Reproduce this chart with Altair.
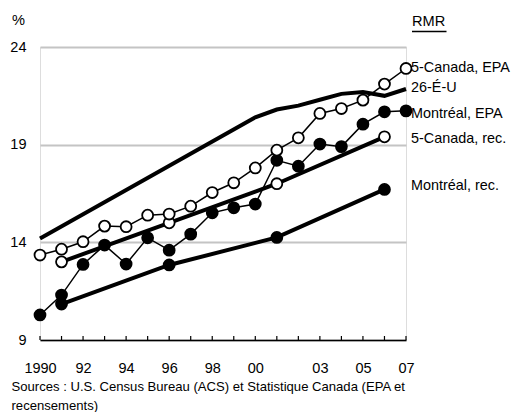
import altair as alt
import pandas as pd

FONT = "Liberation Sans, Arial, sans-serif"

years_epa = list(range(1990, 2008))
can_epa = [13.35, 13.65, 14.03, 14.83, 14.8, 15.39, 15.45, 15.85, 16.55, 17.05,
           17.81, 18.72, 19.35, 20.6, 20.85, 21.28, 22.1, 22.9]
mtl_epa = [10.28, 11.3, 12.87, 13.86, 12.89, 14.23, 13.6, 14.42, 15.51, 15.77,
           15.96, 18.2, 17.9, 19.03, 18.9, 20.05, 20.68, 20.73]
years_us = [1990, 2000, 2001, 2002, 2003, 2004, 2005, 2006, 2007]
us = [14.2, 20.4, 20.8, 21.0, 21.3, 21.6, 21.7, 21.5, 21.85]
years_census = [1991, 1996, 2001, 2006]
can_rec = [13.0, 15.0, 17.0, 19.4]
mtl_rec = [10.84, 12.84, 14.25, 16.71]

x_tick_values = [1990, 1992, 1994, 1996, 1998, 2000, 2003, 2005, 2007]
x_tick_labels = ["1990", "92", "94", "96", "98", "00", "03", "05", "07"]
y_tick_values = [9, 14, 19, 24]

series_labels = ["5-Canada, EPA", "26-É-U", "Montréal, EPA", "5-Canada, rec.", "Montréal, rec."]

df_us = pd.DataFrame({"year": years_us, "v": us})
df_can_epa = pd.DataFrame({"year": years_epa, "v": can_epa})
df_mtl_epa = pd.DataFrame({"year": years_epa, "v": mtl_epa})
df_can_rec = pd.DataFrame({"year": years_census, "v": can_rec})
df_mtl_rec = pd.DataFrame({"year": years_census, "v": mtl_rec})
df_ticks = pd.DataFrame({"year": years_epa})

W, H = 366, 293

label_map = "{" + ", ".join(f"'{v}': '{l}'" for v, l in zip(x_tick_values, x_tick_labels)) + "}"

xs = alt.Scale(domain=[1990, 2007], nice=False, zero=False)
ys = alt.Scale(domain=[9, 24], nice=False, zero=False)

x_enc = alt.X("year:Q", scale=xs, axis=alt.Axis(
    values=x_tick_values, labelExpr=f"{label_map}[datum.value]", title=None,
    grid=False, ticks=False, domain=True, domainColor="black", domainWidth=1.5,
    labelFont=FONT, labelFontSize=14.5, labelColor="black", labelPadding=21,
    labelFlush=False))
y_enc = alt.Y("v:Q", scale=ys, axis=alt.Axis(
    values=y_tick_values, title=None, grid=True, gridColor="#c4c4c4", gridWidth=2,
    ticks=False, domain=False, labelFont=FONT, labelFontSize=14.5, labelColor="black",
    labelPadding=14))

base_axes = alt.Chart(df_us).mark_line(opacity=0).encode(x=x_enc, y=y_enc)

ticks = alt.Chart(df_ticks).mark_rule(color="black", strokeWidth=1.2).encode(
    x=alt.X("year:Q", scale=xs), y=alt.value(H), y2=alt.value(H - 4))

def thick(df):
    return alt.Chart(df).mark_line(color="black", strokeWidth=4).encode(
        x=alt.X("year:Q", scale=xs), y=alt.Y("v:Q", scale=ys))

def thin(df):
    return alt.Chart(df).mark_line(color="black", strokeWidth=1.5).encode(
        x=alt.X("year:Q", scale=xs), y=alt.Y("v:Q", scale=ys))

def pts(df, filled):
    return alt.Chart(df).mark_point(
        shape="circle", size=120, filled=True if filled else False,
        fill="black" if filled else "white", stroke="black",
        strokeWidth=1.8, opacity=1, fillOpacity=1).encode(
        x=alt.X("year:Q", scale=xs), y=alt.Y("v:Q", scale=ys))

label_df = pd.DataFrame({
    "t": series_labels,
    "px": [371, 371, 371, 371, 371],
    "py": [21, 41, 66.5, 91.5, 139],
})
labels = alt.Chart(label_df).mark_text(
    align="left", baseline="middle", font=FONT, fontSize=14.4, color="black").encode(
    text="t:N", x=alt.X("px:Q", scale=None), y=alt.Y("py:Q", scale=None))

extra_df = pd.DataFrame({
    "t": ["RMR", "%"],
    "px": [372, -28],
    "py": [-25.5, -26],
})
extra = alt.Chart(extra_df).mark_text(
    align="left", baseline="middle", font=FONT, fontSize=14.6, color="black").encode(
    text="t:N", x=alt.X("px:Q", scale=None), y=alt.Y("py:Q", scale=None))

underline = alt.Chart(label_df.head(1)).mark_rule(color="black", strokeWidth=1.3).encode(
    x=alt.value(372), x2=alt.value(406.5), y=alt.value(-15.5))

src_df = pd.DataFrame({
    "t": ["Sources : U.S. Census Bureau (ACS) et Statistique Canada (EPA et", "recensements)"],
    "px": [-28.5, -28.5],
    "py": [339.5, 358.5],
})
src = alt.Chart(src_df).mark_text(
    align="left", baseline="middle", font=FONT, fontSize=13.1, color="black").encode(
    text="t:N", x=alt.X("px:Q", scale=None), y=alt.Y("py:Q", scale=None))

chart = alt.layer(
    base_axes, ticks,
    thick(df_us), thick(df_mtl_rec), thick(df_can_rec),
    thin(df_mtl_epa), thin(df_can_epa),
    pts(df_mtl_rec, True), pts(df_can_rec, False),
    pts(df_mtl_epa, True), pts(df_can_epa, False),
    labels, extra, underline, src,
).properties(
    width=W, height=H,
    autosize=alt.AutoSizeParams(type="none"),
    padding={"left": 32, "top": 39, "right": 106, "bottom": 72},
).configure_view(stroke=None).configure(background="white")

chart.save("out.html", embed_options={"renderer": "svg", "actions": False})
